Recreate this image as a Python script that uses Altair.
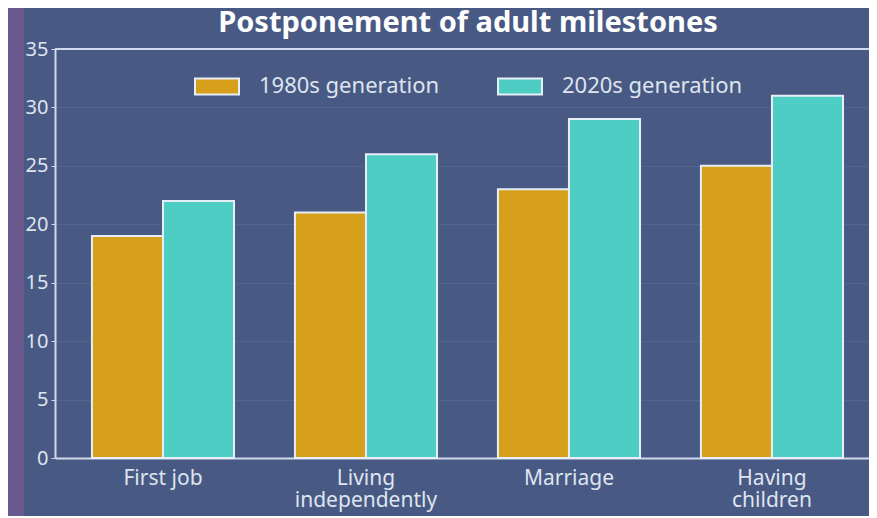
import altair as alt
import pandas as pd

milestones = ["First job", "Living independently", "Marriage", "Having children"]
generations = ["1980s generation", "2020s generation"]
gen1980 = [19, 21, 23, 25]
gen2020 = [22, 26, 29, 31]
colors = ["#D6A01A", "#4ECDC4"]
y_ticks = [0, 5, 10, 15, 20, 25, 30, 35]

rows = []
for m, a, b in zip(milestones, gen1980, gen2020):
    rows.append({"milestone": m, "generation": generations[0], "age": a})
    rows.append({"milestone": m, "generation": generations[1], "age": b})
df = pd.DataFrame(rows)

FONT = "Noto Sans"
LIGHT = "#dfe4ef"
LINE = "#d0d8ec"
PANEL = "#485a84"
OUTER = "#6a5a8e"

bars = alt.Chart(df).mark_bar(stroke="#e8eef8", strokeWidth=2).encode(
    x=alt.X("milestone:N", sort=milestones, title=None,
            scale=alt.Scale(paddingInner=0.3, paddingOuter=0.155, align=0.587),
            axis=alt.Axis(labelAngle=0, ticks=False, labelFontSize=21,
                          labelColor=LIGHT, labelPadding=9, labelLineHeight=22,
                          domainColor=LINE, domainWidth=2, grid=False,
                          labelExpr="length(datum.value) > 10 ? split(datum.value, ' ') : datum.value")),
    xOffset=alt.XOffset("generation:N", sort=generations,
                        scale=alt.Scale(paddingInner=0, paddingOuter=0)),
    y=alt.Y("age:Q", title=None,
            scale=alt.Scale(domain=[0, 35], nice=False),
            axis=alt.Axis(values=y_ticks, labelFontSize=20, labelColor=LIGHT,
                          tickSize=4, tickColor=LINE, labelPadding=3,
                          domainColor=LINE, domainWidth=2,
                          gridColor="#ffffff", gridOpacity=0.07)),
    fill=alt.Fill("generation:N", sort=generations,
                  scale=alt.Scale(domain=generations, range=colors),
                  legend=alt.Legend(title=None, orient="none", direction="horizontal",
                                    legendX=150, legendY=25,
                                    symbolType="M-2,-0.73H2V0.73H-2Z", symbolSize=484,
                                    symbolStrokeColor="#e8eef8", symbolStrokeWidth=2,
                                    symbolOpacity=1, labelLimit=400,
                                    labelFontSize=22, labelColor=LIGHT, labelOffset=30,
                                    columnPadding=54)),
)

top_line = alt.Chart(pd.DataFrame({"v": [y_ticks[-1]]})).mark_rule(
    color=LINE, strokeWidth=2).encode(y=alt.Y("v:Q"))

left_strip = alt.Chart(pd.DataFrame({"a": [0]})).mark_rect(color=OUTER).encode(
    x=alt.value(-47), x2=alt.value(-31), y=alt.value(-41), y2=alt.value(470))

chart = alt.layer(left_strip, bars, top_line).properties(
    width=814, height=409,
    background=PANEL,
    padding={"left": 47, "top": 41, "right": 0, "bottom": 58},
    autosize=alt.AutoSizeParams(type="none"),
    title=alt.Title("Postponement of adult milestones", fontSize=29, fontWeight="bold",
                    color="#ffffff", font=FONT, offset=0, dy=30, dx=6, anchor="middle",
                    frame="group"),
).configure(font=FONT).configure_view(stroke=None)

chart.save("out.html", embed_options={"renderer": "svg", "actions": False})
